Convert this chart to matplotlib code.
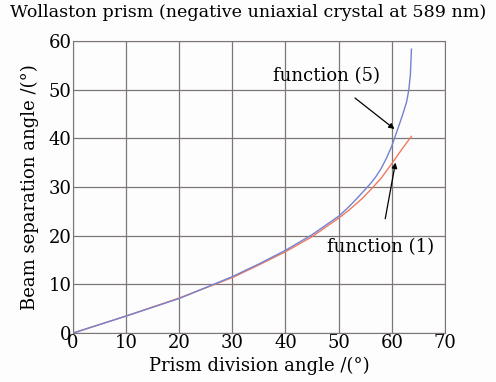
import matplotlib
matplotlib.use('Agg')
import matplotlib.pyplot as plt

# values
x_blue = [0, 10, 20, 30, 35, 40, 45, 50, 52, 54, 56, 57, 58, 59, 60, 61, 62, 62.8, 63.2, 63.5, 63.7]
y_blue = [0, 3.5, 7.1, 11.6, 14.2, 17.0, 20.2, 24.0, 26.0, 28.3, 30.7, 32.1, 33.8, 35.9, 38.4, 41.5, 44.7, 47.5, 49.9, 53.0, 58.3]
x_red = [0, 10, 20, 30, 35, 40, 45, 50, 52, 54.4, 56, 58, 60, 62, 63.7]
y_red = [0, 3.5, 7.2, 11.4, 14.0, 16.7, 19.8, 23.6, 25.3, 27.6, 29.4, 31.8, 34.8, 37.9, 40.4]
xticks = [0, 10, 20, 30, 40, 50, 60, 70]
yticks = [0, 10, 20, 30, 40, 50, 60]

plt.rcParams['font.family'] = ['DejaVu Serif']

fig = plt.figure(figsize=(4.96, 3.82), dpi=100)
fig.patch.set_facecolor('#fdfdfd')
ax = fig.add_axes([0.147, 0.128, 0.750, 0.765])
ax.set_facecolor('#fdfdfd')

ax.plot(x_red, y_red, color='#f07a5c', lw=1.0)
ax.plot(x_blue, y_blue, color='#7482d2', lw=1.0)

ax.set_xlim(0, 70)
ax.set_ylim(0, 60)
ax.set_xticks(xticks)
ax.set_yticks(yticks)
ax.grid(True, color='#7e7676', lw=0.9)
ax.set_axisbelow(True)
for s in ax.spines.values():
    s.set_color('#7e7676')
ax.tick_params(length=0, labelsize=13, pad=1)

ax.set_xlabel('Prism division angle /(°)', fontsize=13, labelpad=3)
ax.set_ylabel('Beam separation angle /(°)', fontsize=13, labelpad=7)
fig.text(0.5, 0.99, 'Wollaston prism (negative uniaxial crystal at 589 nm)',
         ha='center', va='top', fontsize=12.6)

ax.annotate('function (5)', xy=(60.5, 41.9), xytext=(47.8, 52.8),
            ha='center', va='center', fontsize=13,
            arrowprops=dict(arrowstyle='-|>', color='black', lw=0.9,
                            shrinkA=12, shrinkB=0, mutation_scale=8))
ax.annotate('function (1)', xy=(60.7, 35.0), xytext=(57.8, 17.7),
            ha='center', va='center', fontsize=13,
            arrowprops=dict(arrowstyle='-|>', color='black', lw=0.9,
                            shrinkA=12, shrinkB=0, mutation_scale=8))

fig.savefig('out.png', dpi=100, facecolor=fig.get_facecolor())
